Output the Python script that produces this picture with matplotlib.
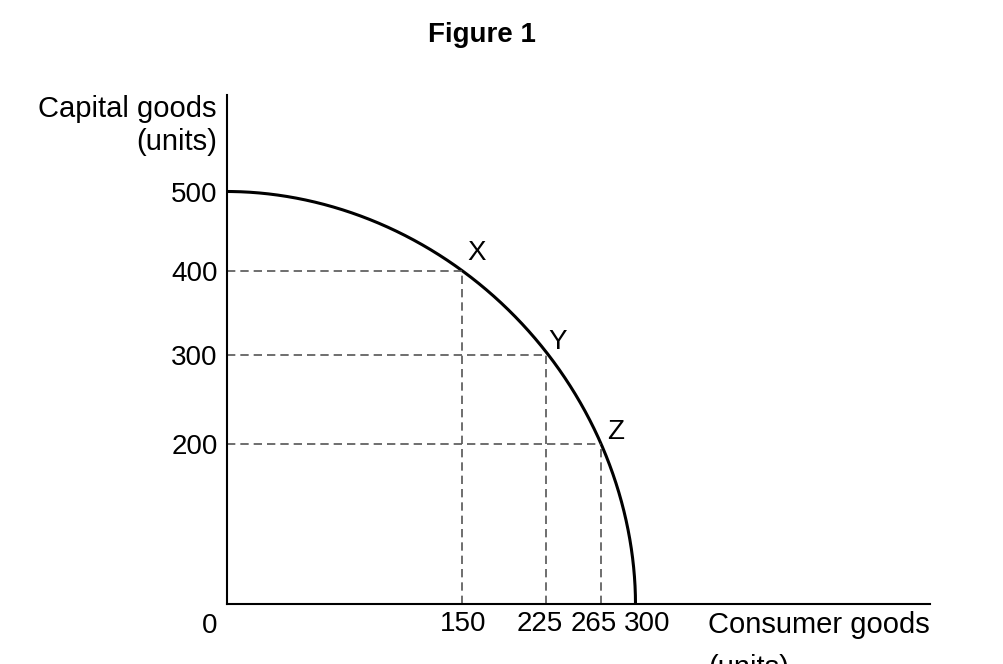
"""
Production possibility frontier - Figure 1.
"""
import numpy as np
import matplotlib
matplotlib.use("Agg")
import matplotlib.pyplot as plt
from matplotlib.transforms import ScaledTranslation

# data
point_labels = ["X", "Y", "Z"]
consumer_goods = [150, 225, 265]
capital_goods = [400, 300, 200]
max_consumer = 300
max_capital = 500
x_ticks = [150, 225, 265, 300]
y_ticks = [200, 300, 400, 500]

# the diagram is schematic: axis spacing is not linear, so map values to positions
x_vals = [0, 150, 225, 265, 300, 600]
x_pos = [0, 234, 318.5, 373, 408, 702.5]
y_vals = [0, 200, 300, 400, 500, 620]
y_pos = [0, 160, 249, 333.5, 412.5, 509]


def fwd_x(v):
    return np.interp(v, x_vals, x_pos)


def inv_x(p):
    return np.interp(p, x_pos, x_vals)


def fwd_y(v):
    return np.interp(v, y_vals, y_pos)


def inv_y(p):
    return np.interp(p, y_pos, y_vals)


def main():
    plt.rcParams["font.family"] = ["Liberation Sans", "DejaVu Sans"]
    plt.rcParams["font.size"] = 20

    fig = plt.figure(figsize=(10.04, 6.64), dpi=100)
    ax = fig.add_axes([227.5 / 1004, 60 / 664, 702.5 / 1004, 509 / 664])
    ax.set_xscale("function", functions=(fwd_x, inv_x))
    ax.set_yscale("function", functions=(fwd_y, inv_y))
    ax.set_xlim(0, 600)
    ax.set_ylim(0, 620)

    # frontier: smooth curve between the intercepts (in display space)
    a = fwd_x(max_consumer)
    b = fwd_y(max_capital)
    p = 1.95
    t = np.linspace(0, np.pi / 2, 400)
    cx = a * np.cos(t) ** (2 / p)
    cy = b * np.sin(t) ** (2 / p)
    ax.plot(inv_x(cx), inv_y(cy), color="black", lw=2.2, solid_capstyle="butt", clip_on=False)

    # dashed guide lines
    for xv, yv in zip(consumer_goods, capital_goods):
        ax.plot([0, xv], [yv, yv], color="#555555", lw=1.2, ls=(0, (5, 3)))
        ax.plot([xv, xv], [0, yv], color="#555555", lw=1.2, ls=(0, (5, 3)))

    offsets = [(4.3, 12.5), (1.4, 9.4), (5, 8.6)]
    for lab, xv, yv, off in zip(point_labels, consumer_goods, capital_goods, offsets):
        ax.annotate(lab, (xv, yv), xytext=off, textcoords="offset points",
                    ha="left", va="center", fontsize=20)

    # axes styling
    for s in ["top", "right"]:
        ax.spines[s].set_visible(False)
    for s in ["left", "bottom"]:
        ax.spines[s].set_linewidth(1.5)
    ax.set_xticks(x_ticks)
    ax.set_xticklabels([str(v) for v in x_ticks])
    ax.set_yticks(y_ticks)
    ax.set_yticklabels([str(v) for v in y_ticks])
    ax.tick_params(axis="x", length=0, pad=5, labelsize=20)
    ax.tick_params(axis="y", length=0, pad=7, labelsize=20)

    # nudge crowded x tick labels apart (pixels)
    nudges = [2, -6, -7, 12]
    for lbl, dx in zip(ax.get_xticklabels(), nudges):
        lbl.set_transform(lbl.get_transform() + ScaledTranslation(dx / 100, 0, fig.dpi_scale_trans))

    # origin label
    ax.annotate("0", (0, 0), xytext=(-7, -16), textcoords="offset points",
                ha="right", va="center", fontsize=20)

    # axis titles
    fig.text(217 / 1004, (664 - 117) / 664, "Capital goods", ha="right", va="baseline", fontsize=21)
    fig.text(217 / 1004, (664 - 150) / 664, "(units)", ha="right", va="baseline", fontsize=21)
    fig.text(708 / 1004, (664 - 633) / 664, "Consumer goods", ha="left", va="baseline", fontsize=21)
    fig.text(708 / 1004, (664 - 676) / 664, "(units)", ha="left", va="baseline", fontsize=21)

    fig.text(482 / 1004, (664 - 42) / 664, "Figure 1", ha="center", va="baseline",
             fontsize=20, fontweight="bold")

    fig.savefig("out.png", dpi=100)


if __name__ == "__main__":
    main()
